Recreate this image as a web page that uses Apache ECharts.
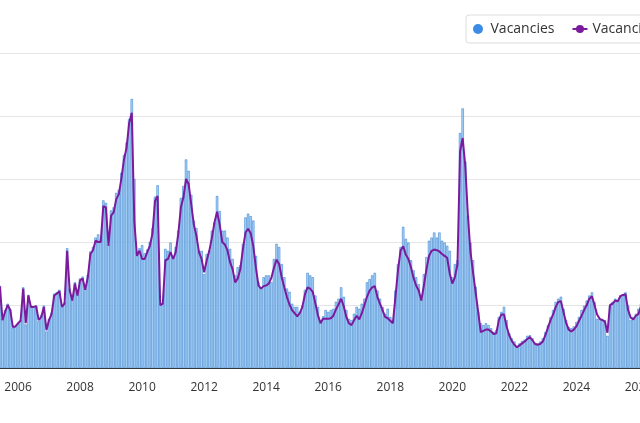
<!DOCTYPE html>
<html>
<head>
<meta charset="utf-8">
<script src="https://cdn.jsdelivr.net/npm/echarts@6/dist/echarts.min.js"></script>
<style>
  html, body { margin: 0; padding: 0; width: 640px; height: 423px; overflow: hidden; background: #fff; }
  #chart { position: absolute; left: -50px; top: 0; width: 900px; height: 423px; }
</style>
</head>
<body>
<div id="chart"></div>
<script>
// monthly series, first month Jan 2005
const startYear = 2005;
const tickYears = ['2006', '2008', '2010', '2012', '2014', '2016', '2018', '2020', '2022', '2024', '2026'];

const vacancies = [
  108, 112, 118, 126, 140, 130, 78, 92, 102, 93, 64, 66,
  71, 76, 128, 69, 116, 99, 98, 99, 74, 84, 99, 58,
  78, 88, 118, 120, 124, 98, 104, 190, 126, 108, 136, 117,
  142, 145, 126, 148, 185, 192, 207, 212, 204, 266, 262, 196,
  250, 255, 278, 283, 310, 338, 358, 395, 427, 300, 185, 190,
  195, 182, 188, 200, 222, 272, 290, 100, 104, 189, 186, 199,
  176, 192, 218, 270, 289, 331, 313, 275, 234, 222, 186, 186,
  149, 181, 186, 218, 231, 273, 249, 218, 218, 207, 189, 173,
  147, 160, 163, 197, 239, 245, 241, 234, 178, 136, 128, 144,
  147, 147, 136, 173, 197, 192, 165, 144, 126, 121, 102, 97,
  97, 89, 99, 124, 151, 147, 144, 115, 97, 76, 82, 92,
  89, 92, 94, 105, 110, 128, 113, 92, 78, 76, 86, 97,
  94, 102, 110, 136, 141, 147, 151, 123, 110, 97, 86, 94,
  81, 76, 123, 165, 192, 224, 205, 199, 171, 155, 144, 133,
  110, 149, 176, 202, 207, 215, 207, 215, 202, 199, 194, 186,
  144, 165, 171, 373, 412, 328, 242, 199, 171, 129, 89, 71,
  68, 71, 68, 63, 57, 60, 81, 89, 97, 76, 55, 47,
  42, 35, 39, 43, 45, 51, 52, 47, 40, 39, 42, 47,
  57, 68, 81, 92, 105, 110, 113, 94, 76, 65, 63, 66,
  73, 81, 92, 99, 107, 115, 120, 105, 78, 78, 78, 76,
  51, 99, 105, 110, 107, 115, 117, 120, 99, 76, 81, 86,
  94, 102, 108, 112
];

const vacanciesAvg = [
  100, 105, 112, 120, 135, 128, 76, 89, 100, 92, 65, 66,
  71, 75, 126, 71, 115, 97, 97, 98, 76, 81, 97, 60,
  76, 86, 115, 118, 122, 97, 102, 186, 123, 107, 134, 115,
  139, 142, 124, 144, 181, 187, 202, 200, 200, 257, 255, 194,
  242, 247, 268, 276, 301, 331, 350, 389, 405, 232, 178, 186,
  173, 173, 184, 194, 213, 265, 273, 100, 102, 171, 173, 184,
  173, 184, 213, 255, 271, 300, 292, 260, 228, 210, 184, 173,
  152, 171, 186, 207, 231, 248, 228, 200, 196, 187, 168, 157,
  136, 142, 157, 189, 215, 221, 214, 194, 160, 131, 126, 130,
  131, 134, 143, 159, 172, 165, 144, 128, 113, 101, 92, 87,
  82, 87, 97, 117, 128, 126, 121, 103, 84, 71, 78, 78,
  78, 79, 83, 93, 101, 110, 98, 81, 71, 68, 76, 83,
  77, 87, 100, 113, 123, 128, 130, 113, 102, 92, 81, 79,
  75, 71, 113, 156, 187, 193, 180, 173, 160, 143, 131, 123,
  107, 131, 157, 178, 186, 188, 187, 185, 181, 178, 175, 150,
  134, 144, 165, 344, 365, 321, 244, 185, 152, 121, 89, 57,
  59, 61, 61, 58, 54, 55, 76, 85, 85, 66, 52, 43,
  37, 33, 36, 39, 42, 46, 49, 44, 38, 37, 38, 42,
  52, 64, 76, 85, 97, 105, 106, 89, 72, 61, 58, 61,
  66, 75, 83, 92, 100, 110, 114, 100, 85, 78, 76, 74,
  56, 100, 102, 107, 106, 114, 116, 117, 92, 80, 77, 83,
  86, 98, 105, 110
];

// month categories built from the start year
const months = vacancies.map((_, i) => {
  const y = startYear + Math.floor(i / 12);
  const m = (i % 12) + 1;
  return y + '-' + (m < 10 ? '0' + m : m);
});

const isYearTick = (index) => {
  const label = months[index];
  return label.slice(5) === '01' && tickYears.indexOf(label.slice(0, 4)) !== -1;
};

const chart = echarts.init(document.getElementById('chart'));

chart.setOption({
  animation: false,
  textStyle: { fontFamily: 'Open Sans' },
  legend: {
    left: 516,
    top: 15,
    padding: [7, 7],
    itemGap: 17,
    itemWidth: 15,
    itemHeight: 10,
    borderColor: '#dcdcdc',
    borderWidth: 1,
    borderRadius: 3,
    textStyle: { color: '#333', fontSize: 14, fontFamily: 'Open Sans' },
    data: [
      { name: 'Vacancies', icon: 'circle', itemStyle: { color: '#3c8ce7', borderWidth: 0 } },
      { name: 'Vacancies (3-month average)' }
    ]
  },
  grid: {
    left: 35.7,
    width: 661.8,
    top: 53,
    bottom: 55
  },
  xAxis: {
    type: 'category',
    data: months,
    boundaryGap: true,
    axisLine: { lineStyle: { color: '#333', width: 1 } },
    axisTick: {
      alignWithLabel: true,
      interval: isYearTick,
      length: 5,
      lineStyle: { color: '#666' }
    },
    axisLabel: {
      interval: isYearTick,
      formatter: (v) => v.slice(0, 4),
      color: '#333',
      fontSize: 12,
      margin: 14
    }
  },
  yAxis: {
    type: 'value',
    min: 0,
    max: 500,
    interval: 100,
    axisLabel: { show: false },
    axisLine: { show: false },
    axisTick: { show: false },
    splitLine: { lineStyle: { color: '#e5e5e5' } }
  },
  series: [
    {
      name: 'Vacancies',
      type: 'bar',
      data: vacancies,
      barCategoryGap: '10%',
      itemStyle: {
        color: '#acd5f8',
        borderColor: '#2272c9',
        borderWidth: 0.5
      }
    },
    {
      name: 'Vacancies (3-month average)',
      type: 'line',
      data: vacanciesAvg,
      symbol: 'circle',
      symbolSize: 6,
      showSymbol: false,
      lineStyle: { color: '#7c1a9e', width: 2 },
      itemStyle: { color: '#7c1a9e' }
    }
  ]
});
</script>
</body>
</html>
